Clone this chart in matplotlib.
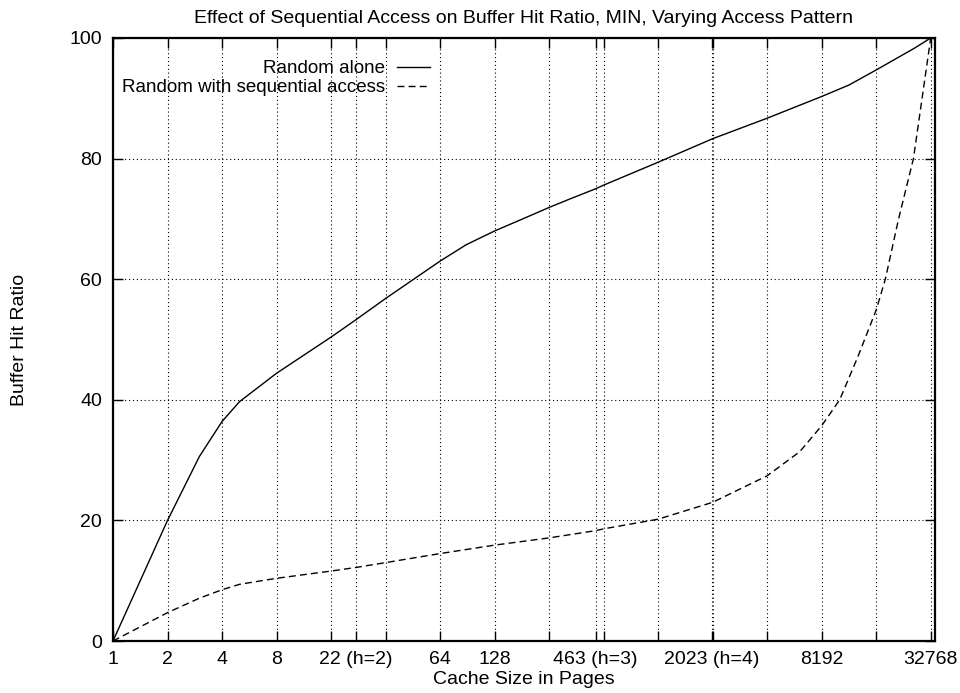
"""
Buffer hit ratio vs cache size (gnuplot look-alike)
"""

import matplotlib
matplotlib.use('Agg')
import matplotlib.pyplot as plt
from matplotlib.ticker import FixedLocator, FixedFormatter, NullLocator

plt.rcParams['font.family'] = ['Liberation Sans', 'DejaVu Sans']

black = 'k'

# cache sizes (pages) and hit ratios
random_x = [1, 2, 3, 4, 5, 8, 16, 22, 32, 64, 89, 128, 183, 256, 333, 463, 512,
            1024, 2048, 4096, 8192, 11585, 16384, 26600, 32768]
random_y = [0, 20, 30.6, 36.4, 39.7, 44.4, 50.4, 53.3, 56.8, 63.0, 65.7, 68.0,
            70.0, 71.9, 73.3, 75.0, 75.6, 79.4, 83.3, 86.7, 90.3, 92.2, 94.7,
            98.3, 100]

seq_x = [1, 2, 3, 4, 5, 8, 16, 22, 32, 64, 128, 256, 463, 512, 1024,
         2048, 4096, 6200, 8192, 10300, 13000, 16384, 18400, 21700, 26300, 32768]
seq_y = [0, 4.7, 7.1, 8.5, 9.4, 10.4, 11.6, 12.2, 13.0, 14.5, 15.9, 17.1,
         18.3, 18.6, 20.2, 23.0, 27.4, 31.4, 35.7, 40.0, 47.2, 54.9, 60.0,
         69.8, 80.0, 100]

x_ticks = [1, 2, 4, 8, 16, 22, 32, 64, 128, 256, 463, 512, 1024, 2023, 2048,
           4096, 8192, 16384, 32768]
x_labels = ['1', '2', '4', '8', '', '22 (h=2)', '', '64', '128', '', '463 (h=3)',
            '', '', '2023 (h=4)', '', '', '8192', '', '32768']
y_ticks = [0, 20, 40, 60, 80, 100]

fig = plt.figure(figsize=(9.6, 6.93), dpi=100)
ax = fig.add_axes([113 / 960, 1 - 641 / 693, 822 / 960, 603 / 693])

ax.plot(random_x, random_y, color=black, linewidth=1.0, label='Random alone')
ax.plot(seq_x, seq_y, color=black, linewidth=1.0, linestyle=(0, (5, 3)),
        label='Random with sequential access')

ax.set_xscale('log', base=2)
ax.set_xlim(1, 34600)
ax.set_ylim(0, 100)

ax.xaxis.set_major_locator(FixedLocator(x_ticks))
ax.xaxis.set_major_formatter(FixedFormatter(x_labels))
ax.xaxis.set_minor_locator(NullLocator())
ax.set_yticks(y_ticks)

ax.tick_params(direction='in', length=7, width=1, top=True, right=True,
               labelsize=14, colors=black)
ax.tick_params(axis='x', pad=7)
ax.tick_params(axis='y', pad=8)

ax.grid(True, color=black, linestyle=(0, (1, 2.5)), linewidth=0.8)
ax.set_axisbelow(True)

for s in ax.spines.values():
    s.set_linewidth(1.6)

ax.set_title('Effect of Sequential Access on Buffer Hit Ratio, MIN, Varying Access Pattern',
             fontsize=14, pad=11)
ax.set_xlabel('Cache Size in Pages', fontsize=14, labelpad=2)
ax.set_ylabel('Buffer Hit Ratio', fontsize=14, va='center')
ax.yaxis.set_label_coords(-(113 - 19) / 822, 0.5)

ax.legend(loc='upper right', bbox_to_anchor=(0.3856, 0.963), markerfirst=False,
          frameon=False, fontsize=13.5, borderpad=0, borderaxespad=0,
          handlelength=1.75, handletextpad=0.65, labelspacing=0.1)

fig.savefig('out.png', dpi=100)
